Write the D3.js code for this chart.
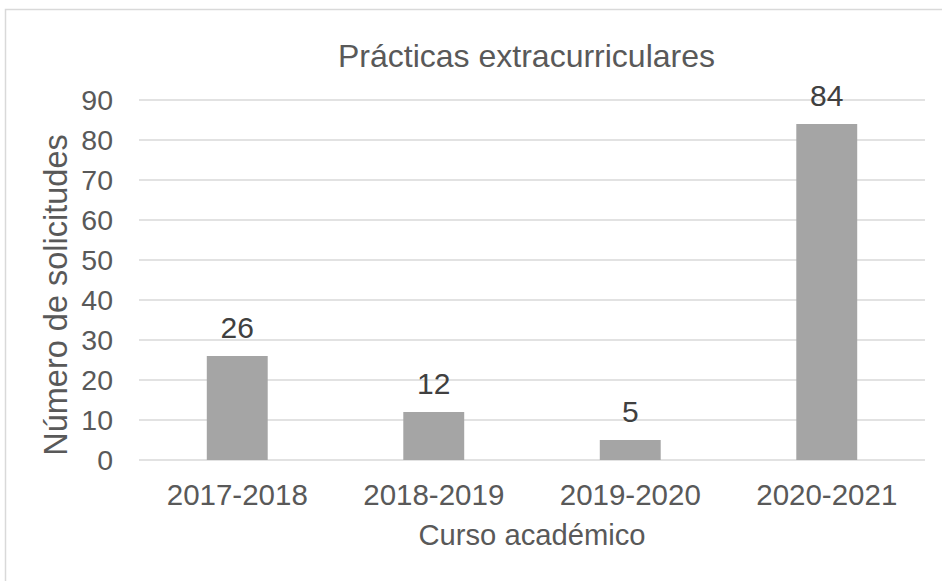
<!DOCTYPE html>
<html>
<head>
<meta charset="utf-8">
<script src="https://cdn.jsdelivr.net/npm/d3@7"></script>
<style>
  body { margin: 0; background: #fff; }
  text { font-family: "Liberation Sans", Arial, sans-serif; }
</style>
</head>
<body>
<svg id="chart" width="942" height="581"></svg>
<script>
// --- Datos ---
const cursos = ["2017-2018", "2018-2019", "2019-2020", "2020-2021"];
const solicitudes = [26, 12, 5, 84];
const yTicks = [0, 10, 20, 30, 40, 50, 60, 70, 80, 90];

const svg = d3.select("#chart"),
    margin = { top: 100, right: 17, bottom: 121, left: 139 },
    width = +svg.attr("width") - margin.left - margin.right,
    height = +svg.attr("height") - margin.top - margin.bottom;

// marco del gráfico
svg.append("rect")
    .attr("x", 5.5)
    .attr("y", 9.5)
    .attr("width", 960)
    .attr("height", 600)
    .attr("fill", "none")
    .attr("stroke", "#d9d9d9")
    .attr("stroke-width", 1.5);

const g = svg.append("g")
    .attr("transform", `translate(${margin.left},${margin.top})`);

const x = d3.scaleBand()
    .domain(cursos)
    .range([0, width])
    .paddingInner(0.69)
    .paddingOuter(0.345);

const y = d3.scaleLinear()
    .domain([0, 90])
    .range([height, 0]);

// gridlines
g.append("g")
    .selectAll("line")
    .data(yTicks)
    .enter()
    .append("line")
    .attr("x1", 0)
    .attr("x2", width)
    .attr("y1", d => y(d))
    .attr("y2", d => y(d))
    .attr("stroke", "#d9d9d9")
    .attr("stroke-width", 1.5);

// eje Y
const yAxis = g.append("g")
    .call(d3.axisLeft(y).tickValues(yTicks).tickSize(0).tickPadding(26));
yAxis.select(".domain").remove();
yAxis.selectAll("text")
    .attr("font-size", 28.5)
    .attr("fill", "#595959")
    .attr("font-family", "Liberation Sans, Arial, sans-serif");

// eje X
const xAxis = g.append("g")
    .attr("transform", `translate(0,${height})`)
    .call(d3.axisBottom(x).tickSize(0).tickPadding(24));
xAxis.select(".domain").remove();
xAxis.selectAll("text")
    .attr("font-size", 29.5)
    .attr("fill", "#595959")
    .attr("font-family", "Liberation Sans, Arial, sans-serif");

// barras
const data = cursos.map((c, i) => ({ curso: c, valor: solicitudes[i] }));

g.selectAll(".bar")
    .data(data)
    .enter()
    .append("rect")
    .attr("class", "bar")
    .attr("x", d => x(d.curso))
    .attr("y", d => y(d.valor))
    .attr("width", x.bandwidth())
    .attr("height", d => height - y(d.valor))
    .attr("fill", "#a5a5a5");

// etiquetas de datos
g.selectAll(".label")
    .data(data)
    .enter()
    .append("text")
    .attr("class", "label")
    .attr("x", d => x(d.curso) + x.bandwidth() / 2)
    .attr("y", d => y(d.valor) - 18)
    .attr("text-anchor", "middle")
    .attr("font-size", 30)
    .attr("fill", "#404040")
    .text(d => d.valor);

// título
svg.append("text")
    .attr("x", 526.5)
    .attr("y", 67)
    .attr("text-anchor", "middle")
    .attr("font-size", 32)
    .attr("fill", "#595959")
    .text("Prácticas extracurriculares");

// títulos de ejes
svg.append("text")
    .attr("x", 532)
    .attr("y", 545)
    .attr("text-anchor", "middle")
    .attr("font-size", 29.2)
    .attr("fill", "#595959")
    .text("Curso académico");

svg.append("text")
    .attr("transform", "translate(67,295) rotate(-90)")
    .attr("text-anchor", "middle")
    .attr("font-size", 32.5)
    .attr("fill", "#595959")
    .text("Número de solicitudes");
</script>
</body>
</html>
